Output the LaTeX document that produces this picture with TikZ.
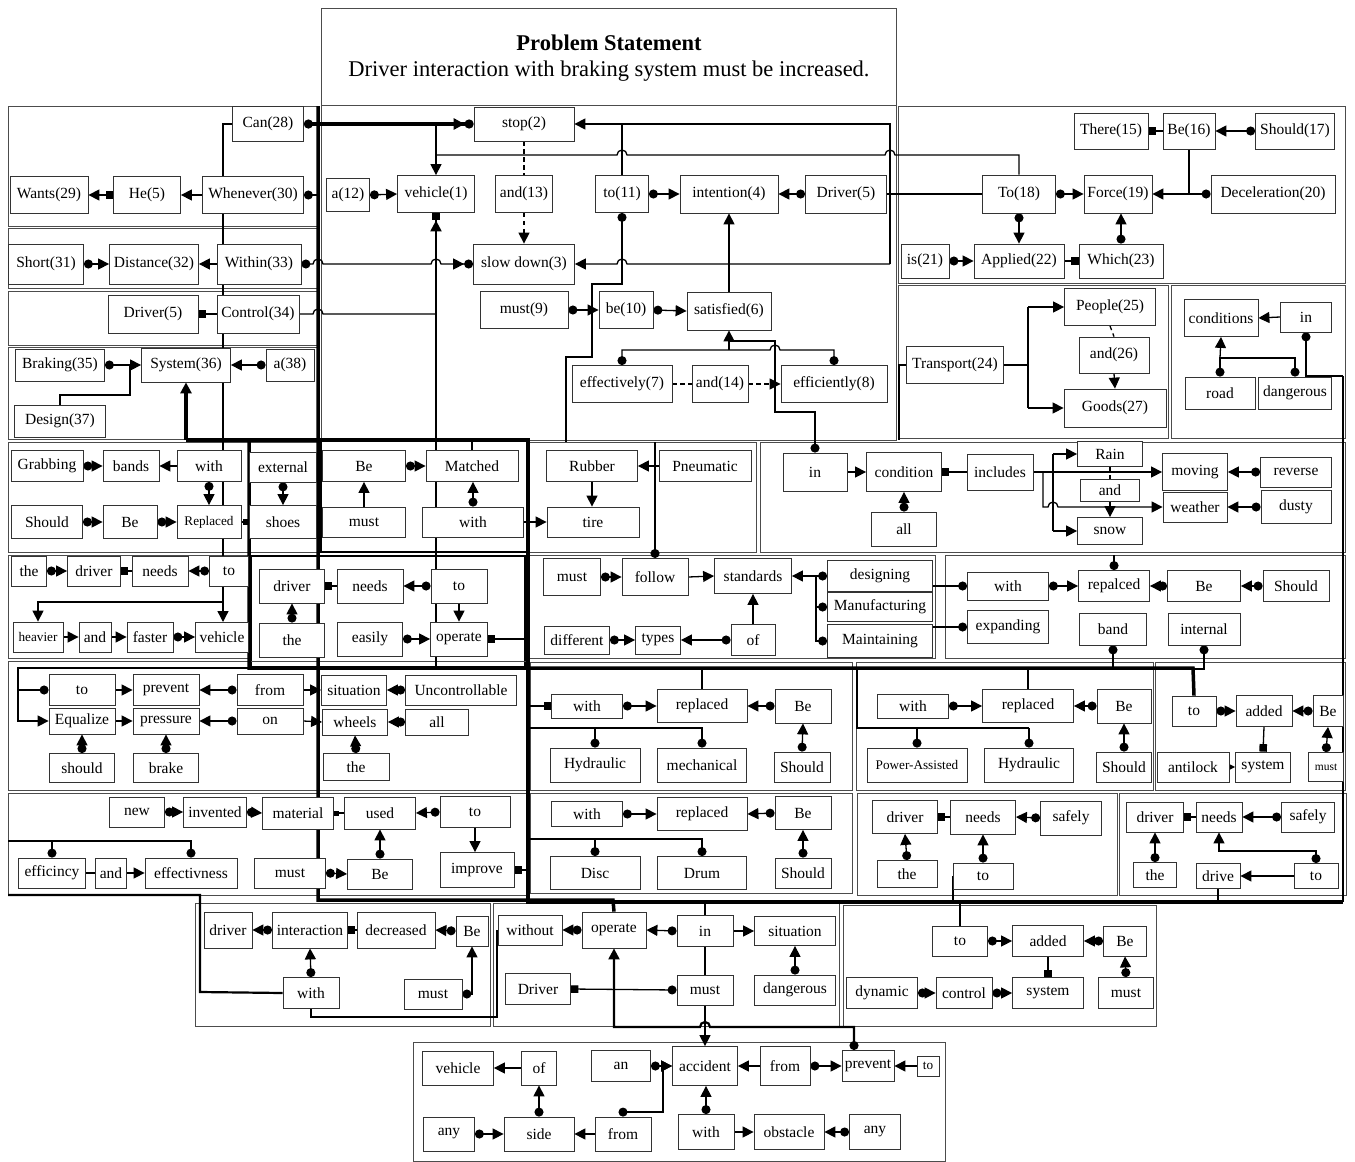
\documentclass[tikz,border=0pt]{standalone}
\usepackage{fontspec}
\setmainfont{Liberation Serif}
\usetikzlibrary{arrows.meta}
\pgfdeclarelayer{bg}
\pgfsetlayers{bg,main}
\newcommand\fN{\fontsize{15.5}{17}\selectfont}
\newcommand\fS{\fontsize{13.2}{15}\selectfont}
\newcommand\fT{\fontsize{11.5}{13}\selectfont}
\newcommand\B[7][]{\node[bx,minimum width=#5pt,minimum height=#6pt,#1] (#2) at (#3,#4) {#7};}
\newcommand\hopR[2]{-- (#1-5,#2) arc[start angle=180,end angle=0,radius=5pt]}
\newcommand\hopL[2]{-- (#1+5,#2) arc[start angle=0,end angle=180,radius=5pt]}
\begin{document}
\begin{tikzpicture}[x=1pt,y=-1pt,
 bx/.style={draw=black!80,line width=0.8pt,fill=white,inner sep=1pt,font=\fN},
 ln/.style={line width=1.3pt},
 lnm/.style={line width=2.2pt},
 tk/.style={line width=3.5pt},
 dsh/.style={dash pattern=on 4.5pt off 3.5pt},
 pnl/.style={draw=black!70,line width=0.9pt},
 pnt/.style={draw=black,line width=2.2pt},
 dt/.style={{Circle[length=9pt]}-{Triangle[length=11pt,width=11pt]}},
 ar/.style={-{Triangle[length=11pt,width=11pt]}},
 dd/.style={{Circle[length=9pt]}-{Circle[length=9pt]}},
 ds/.style={{Circle[length=9pt]}-},
 de/.style={-{Circle[length=9pt]}},
 ss/.style={{Square[length=7.5pt]}-},
 se/.style={-{Square[length=7.5pt]}},
 sqar/.style={{Square[length=7.5pt]}-{Triangle[length=11pt,width=11pt]}},
 dtc/.style={{Circle[length=9pt]}-{Triangle[length=11pt,width=11pt] Circle[length=9pt]}},
]
\useasboundingbox (0,0) rectangle (1355,1162);
% ---------- title
\node[font=\bfseries\fontsize{22.5}{26}\selectfont] (title) at (609,43) {Problem Statement};
\node[font=\fontsize{22.5}{26}\selectfont] (stmt) at (609,71) {Driver interaction with braking system must be increased.};
% ---------- top centre
\B{stop}{524}{124}{100}{34}{stop(2)}
\B{a12}{348}{195}{43}{33}{a(12)}
\B{veh1}{436}{194}{77}{37}{vehicle(1)}
\B{and13}{524}{194}{57}{37}{and(13)}
\B{to11}{622}{194}{53}{37}{to(11)}
\B{int4}{729}{194}{98}{38}{intention(4)}
\B{drv5}{846}{194}{81}{38}{Driver(5)}
\B{slow}{524}{264}{101}{40}{slow down(3)}
\B{must9}{524}{310}{88}{37}{must(9)}
\B{be10}{626}{310}{54}{37}{be(10)}
\B{sat6}{729}{311}{84}{38}{satisfied(6)}
\B{eff7}{622}{384}{100}{37}{effectively(7)}
\B{and14}{720}{384}{56}{37}{and(14)}
\B{eff8}{834}{384}{106}{37}{efficiently(8)}
% ---------- left top
\B{can}{268}{124}{71}{35}{Can(28)}
\B{wants}{49}{195}{78}{37}{Wants(29)}
\B{he5}{147}{195}{67}{37}{He(5)}
\B{whenever}{253}{195}{101}{37}{Whenever(30)}
\B{short}{46}{264}{75}{40}{Short(31)}
\B{dist}{154}{264}{89}{40}{Distance(32)}
\B{within}{259}{264}{84}{40}{Within(33)}
\B{drvC}{153}{314}{90}{38}{Driver(5)}
\B{ctrl}{258}{314}{82}{38}{Control(34)}
\B{braking}{60}{365}{89}{32}{Braking(35)}
\B{sys36}{186}{365}{89}{34}{System(36)}
\B{a38}{290}{365}{48}{32}{a(38)}
\B{design}{60}{421}{91}{32}{Design(37)}
% ---------- right top
\B{there}{1111}{131}{74}{36}{There(15)}
\B{be16}{1189}{131}{52}{36}{Be(16)}
\B{should17}{1295}{131}{79}{36}{Should(17)}
\B{to18}{1019}{194}{73}{38}{To(18)}
\B{force}{1118}{194}{68}{38}{Force(19)}
\B{decel}{1273}{194}{124}{38}{Deceleration(20)}
\B{is21}{925}{261}{48}{34}{is(21)}
\B{applied}{1019}{261}{90}{34}{Applied(22)}
\B{which}{1121}{261}{84}{34}{Which(23)}
\B{transport}{955}{365}{97}{37}{Transport(24)}
\B{people}{1110}{307}{91}{37}{People(25)}
\B{and26}{1114}{355}{70}{36}{and(26)}
\B{goods}{1115}{408}{102}{38}{Goods(27)}
\B{cond}{1221}{318}{74}{37}{conditions}
\B{inG}{1306}{317}{51}{30}{in}
\B{road}{1220}{393}{70}{32}{road}
\B{dangG}{1295}{393}{73}{32}{dangerous}
% ---------- band 2
\B{grab}{47}{466}{72}{31}{Grabbing}
\B{bands}{131}{466}{56}{31}{bands}
\B{withH}{209}{466}{64}{31}{with}
\B{shouldH}{47}{522}{71}{33}{Should}
\B{beH}{130}{522}{54}{33}{Be}
\B[font=\fS]{replH}{209}{522}{64}{33}{Replaced}
\B{ext}{283}{467}{67}{30}{external}
\B{shoes}{283}{522}{67}{33}{shoes}
\B{beJ}{364}{466}{83}{31}{Be}
\B{matched}{472}{466}{92}{31}{Matched}
\B{mustJ}{364}{522}{83}{30}{must}
\B{withJ}{473}{522}{101}{30}{with}
\B{rubber}{592}{466}{91}{31}{Rubber}
\B{pneu}{705}{466}{92}{31}{Pneumatic}
\B{tire}{593}{522}{92}{30}{tire}
\B{inL}{815}{472}{64}{38}{in}
\B{condL}{904}{472}{75}{39}{condition}
\B{allL}{904}{529}{65}{34}{all}
\B{incl}{1000}{472}{66}{36}{includes}
\B{rain}{1110}{454}{65}{25}{Rain}
\B{andL}{1110}{490}{59}{22}{and}
\B{snow}{1110}{531}{65}{27}{snow}
\B{moving}{1195}{472}{65}{37}{moving}
\B{weather}{1195}{507}{64}{30}{weather}
\B{reverse}{1296}{472}{71}{30}{reverse}
\B{dusty}{1296}{507}{70}{33}{dusty}
% ---------- band 3
\B{theM}{29}{571}{35}{30}{the}
\B{drvM}{94}{571}{53}{30}{driver}
\B{needsM}{160}{571}{56}{30}{needs}
\B{toM}{229}{571}{39}{30}{to}
\B[font=\fS]{heavier}{38}{637}{50}{30}{heavier}
\B{andM}{95}{637}{32}{30}{and}
\B{faster}{150}{637}{46}{30}{faster}
\B{vehM}{222}{637}{53}{30}{vehicle}
\B{drvN}{292}{586}{65}{34}{driver}
\B{needsN}{370}{586}{66}{34}{needs}
\B{toN}{459}{586}{56}{34}{to}
\B{theN}{292}{640}{65}{34}{the}
\B{easily}{370}{639}{65}{34}{easily}
\B{operN}{459}{639}{57}{34}{operate}
\B{mustO}{572}{577}{57}{37}{must}
\B{follow}{655}{577}{66}{37}{follow}
\B{standards}{753}{576}{77}{35}{standards}
\B{designing}{880}{576}{105}{31}{designing}
\B{manuf}{880}{607}{105}{29}{Manufacturing}
\B{maint}{880}{641}{105}{33}{Maintaining}
\B{different}{577}{640}{65}{28}{different}
\B{types}{658}{640}{45}{28}{types}
\B{ofO}{753}{640}{44}{31}{of}
\B{withP}{1008}{586}{81}{28}{with}
\B{expanding}{1008}{627}{81}{33}{expanding}
\B{repalced}{1114}{586}{71}{31}{repalced}
\B{beP}{1204}{586}{73}{31}{Be}
\B{shouldP}{1296}{586}{66}{31}{Should}
\B{band}{1113}{629}{67}{32}{band}
\B{internal}{1204}{629}{72}{32}{internal}
% ---------- band 4
\B{toQ}{82}{690}{66}{31}{to}
\B{preventQ}{166}{690}{66}{31}{prevent}
\B{fromQ}{270}{690}{66}{31}{from}
\B{equal}{82}{721}{66}{26}{Equalize}
\B{pressure}{166}{721}{66}{26}{pressure}
\B{onQ}{270}{721}{66}{26}{on}
\B{shouldQ}{82}{768}{65}{29}{should}
\B{brake}{166}{768}{65}{29}{brake}
\B{situQ}{354}{690}{65}{30}{situation}
\B{unctrl}{461}{690}{111}{30}{Uncontrollable}
\B{wheels}{355}{722}{65}{26}{wheels}
\B{allQ}{437}{722}{63}{26}{all}
\B{theQ}{356}{767}{66}{27}{the}
\B{withR}{587}{706}{71}{24}{with}
\B{replR}{702}{706}{90}{33}{replaced}
\B{beR}{803}{706}{56}{34}{Be}
\B{hydR}{595}{765}{90}{34}{Hydraulic}
\B{mech}{702}{765}{89}{34}{mechanical}
\B{shouldR}{802}{767}{56}{30}{Should}
\B{withS}{913}{706}{71}{24}{with}
\B{replS}{1028}{706}{91}{33}{replaced}
\B{beS}{1124}{706}{54}{34}{Be}
\B[font=\fS]{power}{917}{765}{100}{34}{Power-Assisted}
\B{hydS}{1029}{765}{89}{34}{Hydraulic}
\B{shouldS}{1124}{767}{55}{30}{Should}
\B{toT}{1194}{711}{44}{30}{to}
\B{addedT}{1264}{711}{56}{31}{added}
\B{beT}{1328}{711}{30}{31}{Be}
\B{antilock}{1193}{767}{72}{30}{antilock}
\B{systemT}{1263}{767}{55}{30}{system}
\B[font=\fT]{mustT}{1326}{767}{35}{29}{must}
% ---------- band 5
\B{new}{137}{812}{55}{30}{new}
\B{invented}{215}{812}{63}{30}{invented}
\B{material}{298}{813}{71}{32}{material}
\B{used}{380}{813}{71}{32}{used}
\B{toU}{475}{812}{70}{31}{to}
\B{effic}{52}{873}{67}{30}{efficincy}
\B{andU}{111}{873}{31}{30}{and}
\B{effect}{191}{873}{92}{30}{effectivness}
\B{mustU}{290}{873}{71}{30}{must}
\B{beU}{380}{874}{65}{30}{Be}
\B{improve}{477}{870}{74}{35}{improve}
\B{withV}{587}{814}{71}{25}{with}
\B{replV}{702}{814}{90}{33}{replaced}
\B{beV}{803}{813}{56}{33}{Be}
\B{disc}{595}{873}{90}{33}{Disc}
\B{drum}{702}{873}{89}{33}{Drum}
\B{shouldV}{803}{873}{56}{30}{Should}
\B{drvW}{905}{817}{65}{33}{driver}
\B{needsW}{983}{817}{65}{34}{needs}
\B{safelyW}{1071}{818}{61}{34}{safely}
\B{theW}{907}{874}{60}{27}{the}
\B{toW}{983}{876}{60}{26}{to}
\B{drvX}{1155}{817}{57}{30}{driver}
\B{needsX}{1219}{817}{46}{30}{needs}
\B{safelyX}{1308}{817}{53}{30}{safely}
\B{theX}{1155}{875}{43}{25}{the}
\B{drive}{1218}{876}{44}{25}{drive}
\B{toX}{1316}{876}{44}{25}{to}
% ---------- band 6
\B{drvY}{228}{930}{48}{36}{driver}
\B{interaction}{310}{930}{75}{36}{interaction}
\B{decreased}{396}{930}{78}{36}{decreased}
\B{beY}{472}{931}{32}{30}{Be}
\B{withY}{311}{993}{56}{31}{with}
\B{mustY}{433}{994}{58}{30}{must}
\B{without}{530}{930}{64}{30}{without}
\B{operZ}{614}{930}{64}{36}{operate}
\B{inZ}{705}{931}{56}{31}{in}
\B{situZ}{795}{931}{81}{29}{situation}
\B{drvZ}{538}{989}{65}{31}{Driver}
\B{mustZ}{705}{990}{56}{30}{must}
\B{dangZ}{795}{990}{81}{30}{dangerous}
\B{toAA}{960}{941}{55}{30}{to}
\B{addedAA}{1048}{941}{71}{31}{added}
\B{beAA}{1125}{941}{43}{30}{Be}
\B{dynamic}{882}{993}{71}{31}{dynamic}
\B{control}{964}{993}{56}{31}{control}
\B{systemAA}{1048}{993}{71}{31}{system}
\B{mustAA}{1126}{993}{55}{31}{must}
% ---------- band 7
\B{vehBB}{458}{1068}{71}{34}{vehicle}
\B{ofBB}{539}{1068}{35}{34}{of}
\B{an}{621}{1066}{59}{31}{an}
\B{accident}{705}{1066}{65}{39}{accident}
\B{fromA}{785}{1066}{50}{39}{from}
\B{preventBB}{868}{1066}{52}{31}{prevent}
\B[font=\fS]{toBB}{928}{1066}{22}{20}{to}
\B{anyA}{449}{1134}{51}{34}{any}
\B{side}{539}{1134}{70}{34}{side}
\B{fromB}{623}{1134}{56}{34}{from}
\B{withBB}{706}{1132}{56}{35}{with}
\B{obstacle}{789}{1132}{70}{35}{obstacle}
\B{anyB}{875}{1132}{51}{35}{any}

\begin{pgfonlayer}{bg}
% ---------- panels
\draw[pnl] (321,8) rectangle (896,105);
\draw[pnl] (321,105) rectangle (896,440);
\draw[pnl] (8,106) rectangle (318,226);
\draw[pnl] (8,228) rectangle (318,288);
\draw[pnl] (8,291) rectangle (318,345);
\draw[pnl] (8,347) rectangle (318,439);
\draw[pnl] (898,106) rectangle (1345,283);
\draw[pnl] (898,285) rectangle (1168,438);
\draw[pnl] (1171,285) rectangle (1345,438);
\draw[pnl] (8,442) rectangle (248,552);
\draw[pnl] (250,442) rectangle (318,552);
\draw[pnt] (321,441) rectangle (527,552);
\draw[pnl] (529,442) rectangle (756,552);
\draw[pnl] (760,442) rectangle (1345,552);
\draw[pnl] (8,555) rectangle (248,658);
\draw[pnt] (251,556) rectangle (525,667);
\draw[pnl] (529,555) rectangle (935,658);
\draw[pnl] (945,555) rectangle (1345,658);
\draw[pnl] (8,661) rectangle (527,790);
\draw[pnl] (530,662) rectangle (852,790);
\draw[pnl] (856,662) rectangle (1153,790);
\draw[pnl] (1155,662) rectangle (1345,790);
\draw[pnl] (8,793) rectangle (527,895);
\draw[pnl] (530,793) rectangle (852,893);
\draw[pnl] (857,793) rectangle (1117,895);
\draw[pnl] (1119,793) rectangle (1346,895);
\draw[pnl] (195,903) rectangle (490,1026);
\draw[pnl] (493,903) rectangle (839,1026);
\draw[pnl] (843,905) rectangle (1156,1026);
\draw[pnl] (413,1042) rectangle (945,1161);
% ---------- thick structure
\draw[tk] (318,106) -- (318,900) -- (613,900) -- (operZ.north);
\draw[tk,dtc] (can.east) -- (stop.west);
\draw[tk,ar] (186,440) -- (sys36.south);
\draw[tk] (186,440) -- (528,440) -- (528,902) -- (1343,902);
\draw[tk] (249,440) -- (249,668) -- (1193,668) -- (toT.north);
\draw[lnm] (1343,376) -- (1343,902);
% ---------- top centre connectors
\draw[ln,ar] (436,124) -- (veh1.north);
\draw[ln] (to18.north) -- (1019,155) \hopL{890}{155} \hopL{622}{155} -- (436,155);
\draw[ln,ar] (622,124) -- (stop.east);
\draw[ln] (to11.north) -- (622,124) -- (890,124) -- (890,264);
\draw[ln,ar] (890,264) \hopL{622}{264} -- (slow.east);
\draw[ln,ds] (to11.south) -- (622,284) -- (592,284) -- (592,357) -- (566,357) -- (566,442);
\draw[ln,dsh] (stop.south) -- (and13.north);
\draw[ln,dsh,ar] (and13.south) -- (slow.north);
\draw[ln,dt] (a12.east) -- (veh1.west);
\draw[ln,dt] (to11.east) -- (int4.west);
\draw[ln,dt] (drv5.west) -- (int4.east);
\draw[ln] (drv5.east) -- (to18.west);
\draw[ln,dt] (must9.east) -- (be10.west);
\draw[ln,dt] (be10.east) -- (sat6.west);
\draw[ln,ar] (sat6.north) -- (int4.south);
\draw[ln,dsh] (eff7.east) -- (and14.west);
\draw[ln,dsh,ar] (and14.east) -- (eff8.west);
\draw[ln,dd] (eff7.north) -- (622,350) \hopR{775}{350} -- (834,350) -- (eff8.north);
\draw[ln,ar] (729,350) -- (sat6.south);
\draw[ln,ds] (inL.north) -- (815,412) -- (775,412) -- (775,341) -- (729,341);
\draw[lnm,-{Triangle[length=11pt,width=11pt] Square[length=7.5pt]}] (436,668) -- (veh1.south);
% ---------- left top
\draw[ln,ar] (can.west) -- (223,124) -- (223,622);
\draw[ln,sqar] (he5.west) -- (wants.east);
\draw[ln,ar] (whenever.west) -- (he5.east);
\draw[ln,ds] (whenever.east) -- (318,195);
\draw[ln,dt] (short.east) -- (dist.west);
\draw[ln,ar] (within.west) -- (dist.east);
\draw[ln,dtc] (within.east) \hopR{318}{264} \hopR{436}{264} -- (slow.west);
\draw[ln,se] (ctrl.west) -- (drvC.east);
\draw[ln] (ctrl.east) \hopR{318}{314} -- (436,314);
\draw[ln,dt] (braking.east) -- (sys36.west);
\draw[ln] (design.north) -- (60,395) -- (130,395) -- (130,365);
\draw[ln,dt] (a38.west) -- (sys36.east);
% ---------- right top
\draw[ln,ss] (there.east) -- (be16.west);
\draw[ln,dt] (should17.west) -- (be16.east);
\draw[ln,dt] (decel.west) -- (force.east);
\draw[ln] (be16.south) -- (1189,194);
\draw[ln,dt] (to18.east) -- (force.west);
\draw[ln,dt] (to18.south) -- (applied.north);
\draw[ln,dt] (which.north) -- (which.north |- force.south);
\draw[ln,se] (applied.east) -- (which.west);
\draw[ln,dt] (is21.east) -- (applied.west);
\draw[ln] (transport.west) -- (899,365) -- (899,440);
\draw[ln] (transport.east) -- (1028,365);
\draw[ln] (1028,307) -- (1028,408);
\draw[ln,ar] (1028,307) -- (people.west);
\draw[ln,ar] (1028,408) -- (goods.west);
\draw[ln,dsh] (people.south) -- (and26.north);
\draw[ln,dsh,ar] (and26.south) -- (goods.north);
\draw[ln,ar] (inG.west) -- (cond.east);
\draw[ln,dd] (road.north) -- (1220,358) -- (1295,358) -- (dangG.north);
\draw[ln,ar] (1220,358) -- (cond.south);
\draw[ln,ds] (inG.south) -- (1306,376) -- (1343,376);
% ---------- band 2
\draw[ln,dt] (grab.east) -- (bands.west);
\draw[ln,ar] (withH.west) -- (bands.east);
\draw[ln,dt] (withH.south) -- (replH.north);
\draw[ln,dt] (shouldH.east) -- (beH.west);
\draw[ln,dt] (beH.east) -- (replH.west);
\draw[ln,-{Square[length=6pt]}] (replH.east) -- (shoes.west);
\draw[ln,dt] (ext.south) -- (shoes.north);
\draw[ln,ar] (mustJ.north) -- (beJ.south);
\draw[ln,dt] (beJ.east) -- (matched.west);
\draw[ln,dt] (withJ.north) -- (withJ.north |- matched.south);
\draw[ln] (matched.north) -- (472,440);
\draw[ln,ar] (withJ.east) -- (tire.west);
\draw[ln,ar] (pneu.west) -- (rubber.east);
\draw[ln,ar] (rubber.south) -- (rubber.south |- tire.north);
\draw[ln,de] (655,442) -- (655,558);
\draw[ln,ar] (inL.east) -- (condL.west);
\draw[ln,ss] (condL.east) -- (incl.west);
\draw[ln,dt] (allL.north) -- (condL.south);
\draw[ln,ar] (incl.east) -- (moving.west);
\draw[ln,ar] (1043,472) -- (1043,507) \hopR{1053}{507} -- (weather.west);
\draw[ln] (1053,454) -- (1053,531);
\draw[ln,ar] (1053,454) -- (rain.west);
\draw[ln,ar] (1053,531) -- (snow.west);
\draw[ln,dsh] (rain.south) -- (andL.north);
\draw[ln,dsh,ar] (andL.south) -- (snow.north);
\draw[ln,dt] (reverse.west) -- (moving.east);
\draw[ln,dt] (dusty.west) -- (weather.east);
% ---------- band 3
\draw[ln,dt] (theM.east) -- (drvM.west);
\draw[ln,se] (needsM.west) -- (drvM.east);
\draw[ln,dt] (toM.west) -- (needsM.east);
\draw[ln,ar] (223,602) -- (38,602) -- (heavier.north);
\draw[ln,ar] (heavier.east) -- (andM.west);
\draw[ln,ar] (andM.east) -- (faster.west);
\draw[ln,dt] (faster.east) -- (vehM.west);
\draw[ln,se] (needsN.west) -- (drvN.east);
\draw[ln,dt] (toN.west) -- (needsN.east);
\draw[ln,ar] (toN.south) -- (operN.north);
\draw[ln,dt] (theN.north) -- (drvN.south);
\draw[ln,dt] (easily.east) -- (operN.west);
\draw[ln,ss] (operN.east) -- (525,639);
\draw[ln,dt] (mustO.east) -- (follow.west);
\draw[ln,ar] (follow.east) -- (standards.west);
\draw[ln,dt] (designing.west) -- (standards.east);
\draw[ln,ds] (manuf.west) -- (816,607) -- (816,576);
\draw[ln,ds] (maint.west) -- (816,641) -- (816,607);
\draw[ln,ar] (ofO.north) -- (standards.south);
\draw[ln,dt] (ofO.west) -- (types.east);
\draw[ln,dt] (different.east) -- (types.west);
\draw[ln,de] (932,586) -- (withP.west);
\draw[ln,de] (932,627) -- (expanding.west);
\draw[ln,dt] (withP.east) -- (repalced.west);
\draw[ln,dt] (beP.west) -- (repalced.east);
\draw[ln,dt] (shouldP.west) -- (beP.east);
\draw[ln,ds] (repalced.north) -- (1114,555);
\draw[ln,ds] (band.south) -- (1113,668);
\draw[ln,ds] (internal.south) -- (1204,669) -- (1193,669);
% ---------- band 4
\draw[ln,ar] (249,668) -- (18,668) -- (18,721) -- (equal.west);
\draw[ln,de] (18,690) -- (toQ.west);
\draw[ln,ar] (toQ.east) -- (preventQ.west);
\draw[ln,dt] (fromQ.west) -- (preventQ.east);
\draw[ln,ar] (equal.east) -- (pressure.west);
\draw[ln,dt] (onQ.west) -- (pressure.east);
\draw[ln,dt] (shouldQ.north) -- (equal.south);
\draw[ln,dt] (brake.north) -- (pressure.south);
\draw[ln,ar] (fromQ.east) -- (situQ.west);
\draw[ln,ar] (onQ.east) -- (wheels.west);
\draw[ln,dt] (unctrl.west) -- (situQ.east);
\draw[ln,dt] (allQ.west) -- (wheels.east);
\draw[ln,dt] (theQ.north) -- (wheels.south);
\draw[ln,se] (530,706) -- (withR.west);
\draw[ln,dt] (withR.east) -- (replR.west);
\draw[ln,dt] (beR.west) -- (replR.east);
\draw[ln,dt] (shouldR.north) -- (beR.south);
\draw[ln] (replR.north) -- (702,668);
\draw[ln,de] (530,728) -- (702,728) -- (mech.north);
\draw[ln,de] (595,728) -- (hydR.north);
\draw[ln,dt] (withS.east) -- (replS.west);
\draw[ln,dt] (beS.west) -- (replS.east);
\draw[ln,dt] (shouldS.north) -- (beS.south);
\draw[ln] (replS.north) -- (1028,668);
\draw[lnm] (857,668) -- (857,728) -- (1029,728);
\draw[ln,de] (1029,728) -- (hydS.north);
\draw[ln,de] (917,728) -- (power.north);
\draw[ln,dt] (toT.east) -- (addedT.west);
\draw[ln,dt] (beT.west) -- (addedT.east);
\draw[ln,se] (addedT.south) -- (systemT.north);
\draw[ln,dt] (antilock.east) -- (systemT.west);
\draw[ln,dt] (mustT.north) -- (beT.south);
% ---------- band 5
\draw[ln,dt] (new.east) -- (invented.west);
\draw[ln,dt] (invented.east) -- (material.west);
\draw[ln,-{Square[length=5pt]}] (used.west) -- (material.east);
\draw[ln,dt] (toU.west) -- (used.east);
\draw[ln,ar] (toU.south) -- (toU.south |- improve.north);
\draw[ln,dt] (beU.north) -- (used.south);
\draw[ln,dt] (mustU.east) -- (beU.west);
\draw[ln] (effic.east) -- (andU.west);
\draw[ln,ar] (andU.east) -- (effect.west);
\draw[ln,de] (8,841) -- (191,841) -- (effect.north);
\draw[ln,de] (52,841) -- (effic.north);
\draw[ln,ss] (improve.east) -- (528,870);
\draw[ln,dt] (withV.east) -- (replV.west);
\draw[ln,dt] (beV.west) -- (replV.east);
\draw[ln,dt] (shouldV.north) -- (beV.south);
\draw[ln,de] (528,839) -- (702,839) -- (drum.north);
\draw[ln,de] (595,839) -- (disc.north);
\draw[ln,se] (needsW.west) -- (drvW.east);
\draw[ln,dt] (safelyW.west) -- (needsW.east);
\draw[ln,dt] (theW.north) -- (drvW.south);
\draw[ln,dt] (toW.north) -- (needsW.south);
\draw[ln] (953,876) -- (953,902);
\draw[ln,se] (needsX.west) -- (drvX.east);
\draw[ln,dt] (safelyX.west) -- (needsX.east);
\draw[ln,dt] (theX.north) -- (drvX.south);
\draw[ln,dt] (toX.north) -- (1316,851) -- (1219,851) -- (needsX.south);
\draw[ln,ar] (toX.west) -- (drive.east);
\draw[ln] (drive.south) -- (1218,902);
% ---------- band 6
\draw[ln,dt] (interaction.west) -- (drvY.east);
\draw[ln,se] (decreased.west) -- (interaction.east);
\draw[ln,dt] (beY.west) -- (decreased.east);
\draw[ln,dt] (withY.north) -- (interaction.south);
\draw[ln,dt] (mustY.east) -- (472,994) -- (beY.south);
\draw[ln] (withY.south) -- (311,1017) -- (497,1017) -- (497,930);
\draw[lnm] (8,895) -- (200,895) -- (200,992) -- (withY.west);
\draw[ln,dt] (operZ.west) -- (without.east);
\draw[ln,dt] (inZ.west) -- (operZ.east);
\draw[ln,ar] (inZ.east) -- (situZ.west);
\draw[ln,dt] (dangZ.north) -- (situZ.south);
\draw[ln,{Square[length=7.5pt]}-{Circle[length=9pt]}] (drvZ.east) -- (mustZ.west);
\draw[ln] (inZ.south) -- (mustZ.north);
\draw[ln] (inZ.north) -- (705,902);
\draw[ln,ar] (mustZ.south) -- (accident.north);
\draw[lnm,{Circle[length=9pt]}-{Triangle[length=11pt,width=11pt]}] (854,1050) -- (854,1027) \hopL{705}{1027} -- (614,1027) -- (operZ.south);
\draw[ln,dt] (toAA.east) -- (addedAA.west);
\draw[ln,dt] (beAA.west) -- (addedAA.east);
\draw[ln,se] (addedAA.south) -- (systemAA.north);
\draw[ln,dt] (dynamic.east) -- (control.west);
\draw[ln,dt] (control.east) -- (systemAA.west);
\draw[ln,dt] (mustAA.north) -- (beAA.south);
\draw[ln] (toAA.north) -- (960,902);
% ---------- band 7
\draw[ln,ar] (ofBB.west) -- (vehBB.east);
\draw[ln,dt] (side.north) -- (ofBB.south);
\draw[ln,dt] (anyA.east) -- (side.west);
\draw[ln,ar] (fromB.west) -- (side.east);
\draw[ln,dt] (fromB.north) -- (623,1112) -- (663,1112) -- (663,1066) -- (accident.west);
\draw[ln,dt] (an.east) -- (accident.west);
\draw[ln,ar] (fromA.west) -- (accident.east);
\draw[ln,dt] (fromA.east) -- (preventBB.west);
\draw[ln,ar] (toBB.west) -- (preventBB.east);
\draw[ln,dt] (withBB.north) -- (withBB.north |- accident.south);
\draw[ln,ar] (withBB.east) -- (obstacle.west);
\draw[ln,dt] (anyB.west) -- (obstacle.east);
\end{pgfonlayer}
\end{tikzpicture}
\end{document}
